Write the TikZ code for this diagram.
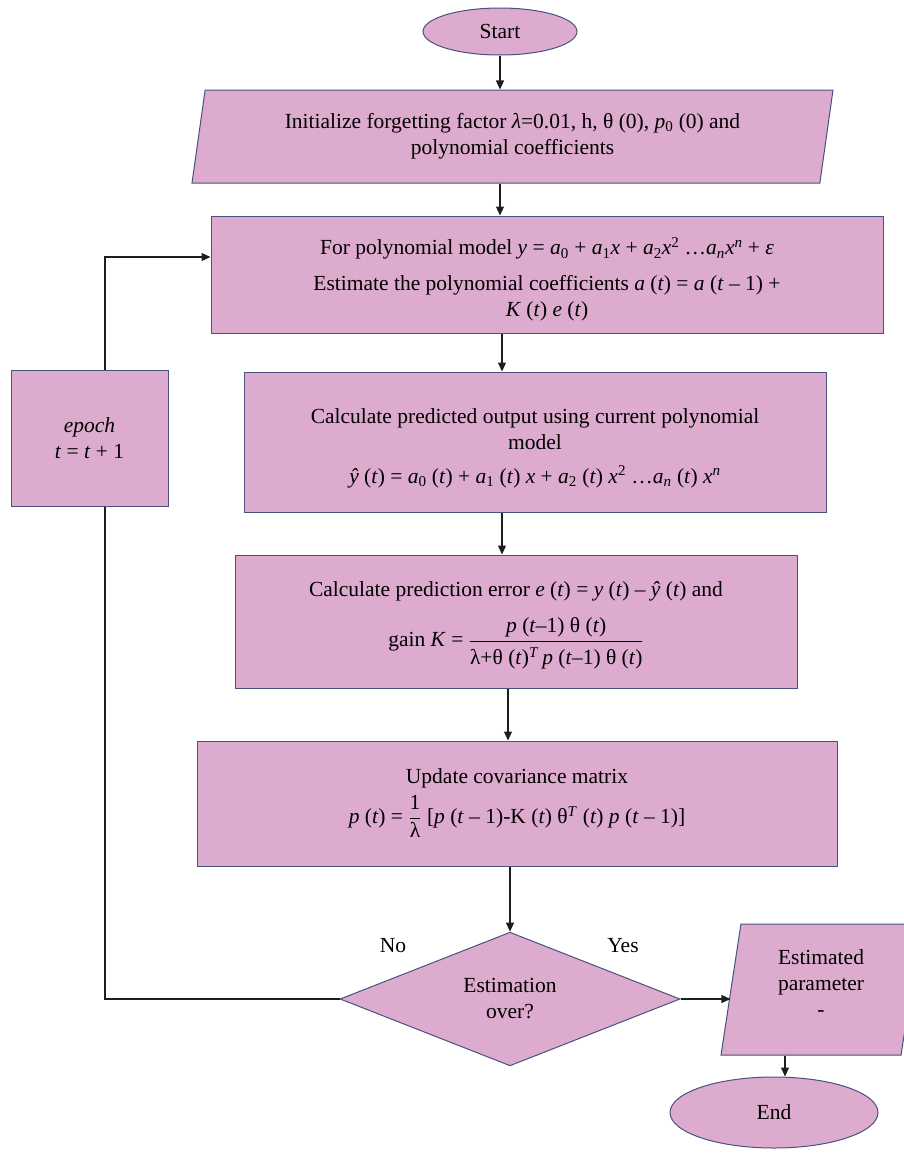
\documentclass[tikz,border=0pt]{standalone}
\usepackage{fontspec}
\setmainfont{Liberation Serif}
\usetikzlibrary{shapes.geometric,arrows.meta}

\definecolor{boxfill}{RGB}{221,171,206}
\definecolor{boxline}{RGB}{72,82,128}
\definecolor{wire}{RGB}{30,30,30}

% italic variables and text-style indices
\newcommand\vi[1]{\textit{#1}}
\newcommand\sub[1]{\textsubscript{#1}}
\newcommand\sups[1]{\textsuperscript{#1}}

\begin{document}
\begin{tikzpicture}[x=1pt,y=-1pt,
  font=\fontsize{21.5}{26}\selectfont,
  base/.style={draw=boxline, fill=boxfill, line width=1pt, align=center, inner sep=0pt},
  procbox/.style={base, rectangle},
  term/.style={base, ellipse},
  io/.style={base, trapezium, trapezium stretches body=true,
             trapezium left angle=#1, trapezium right angle=180-#1},
  decide/.style={base, diamond},
  words/.style={align=center, inner sep=0pt},
  flow/.style={draw=wire, line width=1.2pt, -{Triangle[length=9pt,width=8pt]}},
  plain/.style={draw=wire, line width=1.2pt}
]
\useasboundingbox (0,0) rectangle (904,1154);
\clip (0,0) rectangle (904,1154);

% main column
\node[term, minimum width=154pt, minimum height=47pt] (start) at (500,31.5) {Start};

\node[io=74, minimum width=641pt, minimum height=93pt] (init) at (512.5,136.5)
  {Initialize forgetting factor \vi{λ}=0.01, h, θ (0), \vi{p}\sub{0} (0) and\\ polynomial coefficients};

\node[procbox, minimum width=672pt, minimum height=117pt] (model) at (547,274.5) {};
\node[words] (modeltext) at ([yshift=-5pt]model.center)
  {For polynomial model \vi{y} = \vi{a}\sub{0} + \vi{a}\sub{1}\vi{x} + \vi{a}\sub{2}\vi{x}\sups{2} …\vi{a}\sub{\vi{n}}\vi{x}\sups{\vi{n}} + \vi{ε}\\[10pt]
   Estimate the polynomial coefficients \vi{a} (\vi{t}) = \vi{a} (\vi{t} – 1) +\\
   \vi{K} (\vi{t}) \vi{e} (\vi{t})};

\node[procbox, minimum width=582pt, minimum height=140pt] (predict) at (535,442) {};
\node[words] (predicttext) at ([yshift=-6pt]predict.center)
  {Calculate predicted output using current polynomial\\ model\\[8pt]
   \vi{ŷ} (\vi{t}) = \vi{a}\sub{0} (\vi{t}) + \vi{a}\sub{1} (\vi{t}) \vi{x} + \vi{a}\sub{2} (\vi{t}) \vi{x}\sups{2} …\vi{a}\sub{\vi{n}} (\vi{t}) \vi{x}\sups{\vi{n}}};

\node[procbox, minimum width=562pt, minimum height=133pt] (gain) at (516,621.5) {};
\node[words] (gaintext) at ([yshift=-4pt]gain.center)
  {Calculate prediction error \vi{e} (\vi{t}) = \vi{y} (\vi{t}) – \vi{ŷ} (\vi{t}) and\\[15pt]
   gain \vi{K} = $\displaystyle\frac{\mbox{\vi{p} (\vi{t}–1) θ (\vi{t})}\rule[-4pt]{0pt}{4pt}}{\rule{0pt}{22pt}\mbox{λ+θ (\vi{t})\sups{\vi{T}}\,\vi{p} (\vi{t}–1) θ (\vi{t})}}$};

\node[procbox, minimum width=640pt, minimum height=125pt] (cov) at (517,803.5)
  {Update covariance matrix\\[6pt]
   \vi{p} (\vi{t}) = $\displaystyle\frac{\mbox{1}}{\mbox{λ}}$ [\vi{p} (\vi{t} – 1)-K (\vi{t}) θ\sups{\vi{T}} (\vi{t}) \vi{p} (\vi{t} – 1)]};

\node[decide, minimum width=340pt, minimum height=130pt] (done) at (510,999) {Estimation\\ over?};

\node[io=76, minimum width=200pt, minimum height=131pt] (result) at (821,989.5)
  {Estimated\\ parameter\\ -\\[-13pt]\mbox{}};

\node[term, minimum width=208pt, minimum height=71pt] (stop) at (774,1112.5) {End};

% loop-back box
\node[procbox, minimum width=157pt, minimum height=136pt] (epoch) at (89.5,438) {\vi{epoch}\\ \vi{t} = \vi{t} + 1};

% branch labels
\node (no) at (393,946) {No};
\node (yes) at (623,946) {Yes};

% connectors
\draw[flow] (start.south) -- (init.north -| start.south);
\draw[flow] (init.south -| start.south) -- (model.north -| start.south);
\draw[flow] ([xshift=-45pt]model.south) -- ([xshift=-45pt]model.south |- predict.north);
\draw[flow] ([xshift=-33pt]predict.south) -- ([xshift=-33pt]predict.south |- gain.north);
\draw[flow] ([xshift=-8pt]gain.south) -- ([xshift=-8pt]gain.south |- cov.north);
\draw[flow] (cov.south -| done.north) -- (done.north);
\draw[flow] (done.east) -- (result.west |- done.east);
\draw[flow] ([xshift=-36pt]result.south) -- ([xshift=-36pt]result.south |- stop.north);

\coordinate (rail) at (105,0);
\coordinate (loopin) at ([yshift=17.5pt]model.west);
\draw[plain] (done.west) -| (epoch.south -| rail);
\draw[flow] (epoch.north -| rail) |- (loopin);
\end{tikzpicture}
\end{document}
